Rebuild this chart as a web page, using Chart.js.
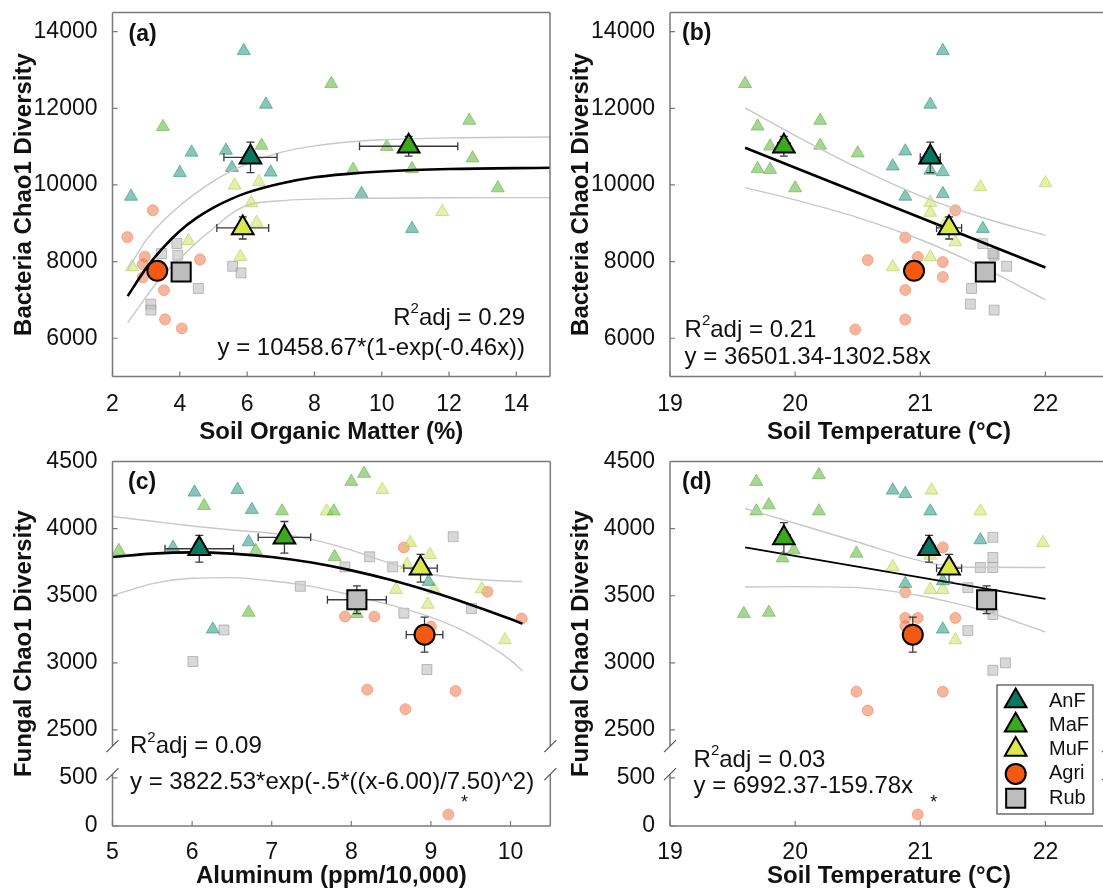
<!DOCTYPE html>
<html>
<head>
<meta charset="utf-8">
<title>Chao1 diversity vs soil variables</title>
<script src="https://cdn.jsdelivr.net/npm/chart.js@4.4.1/dist/chart.umd.min.js"></script>
<style>
  html, body { margin: 0; padding: 0; background: #fff; }
  body { position: relative; width: 1103px; height: 890px; overflow: hidden; }
  canvas { position: absolute; }
  #panelA { left: 0; top: 0; }
  #panelB { left: 557px; top: 0; }
  #panelC { left: 0; top: 445px; }
  #panelD { left: 557px; top: 445px; }
</style>
</head>
<body>
<canvas id="panelA" width="557" height="445"></canvas>
<canvas id="panelB" width="557" height="445"></canvas>
<canvas id="panelC" width="557" height="445"></canvas>
<canvas id="panelD" width="557" height="445"></canvas>
<script>
const groups = ['AnF', 'MaF', 'MuF', 'Agri', 'Rub'];

// ---- (a) bacteria vs soil organic matter ----
const aAnF = [[5.9,13500],[6.56,12100],[4.35,10850],[5.37,10900],[5.55,10450],[4.0,10320],[6.7,10330],[2.55,9700],[9.4,9770],[10.9,8860]];
const aMaF = [[3.5,11520],[8.5,12640],[12.6,11680],[6.43,11030],[10.15,11000],[12.7,10700],[10.9,10420],[9.15,10400],[13.45,9920]];
const aMuF = [[5.63,9990],[6.35,10080],[6.12,9530],[6.28,9020],[11.8,9300],[4.26,8540],[5.8,8130],[2.58,7860]];
const aAgri = [[3.2,9340],[2.44,8640],[2.96,8130],[2.9,7930],[2.9,7590],[4.6,8055],[3.53,7255],[3.56,6495],[4.06,6258]];
const aRub = [[3.91,8471],[3.94,8167],[3.46,8211],[4.55,7300],[3.14,6890],[3.14,6735],[5.57,7880],[5.82,7706]];
const aMeanX = [6.1, 10.8, 5.87, 3.33, 4.04];
const aMeanY = [10720, 11010, 8880, 7760, 7730];
const aErrX = [0.79, 1.46, 0.77, 0.2, 0.2];
const aErrY = [400, 260, 290, 150, 150];
const aFitX = [2.45, 3, 3.5, 4, 4.5, 5, 5.5, 6, 7, 8, 9, 10, 12, 15];
const aFitY = [7100, 7830, 8360, 8800, 9140, 9410, 9625, 9800, 10040, 10200, 10290, 10350, 10415, 10450];
const aCiHi = [7790, 8560, 9060, 9460, 9800, 10100, 10350, 10550, 10850, 11020, 11120, 11180, 11230, 11250];
const aCiLo = [6400, 7080, 7650, 8080, 8500, 8870, 9230, 9470, 9590, 9630, 9650, 9655, 9665, 9670];
const aTicks = [2, 4, 6, 8, 10, 12, 14];

// ---- (b) bacteria vs soil temperature ----
const bAnF = [[21.18,13500],[21.08,12100],[20.88,10880],[20.78,10490],[21.18,10340],[21.08,10380],[21.18,9770],[20.88,9700],[21.5,8860],[21.08,10850]];
const bMaF = [[19.6,12640],[19.7,11530],[20.2,11680],[19.8,11010],[20.2,11030],[20.5,10830],[19.7,10420],[19.8,10400],[20.0,9920]];
const bMuF = [[22.0,10050],[21.48,9950],[21.08,9540],[21.08,9280],[21.28,8510],[21.08,8120],[20.78,7860],[21.2,9000]];
const bAgri = [[21.28,9340],[20.88,8630],[20.58,8040],[20.98,8120],[21.18,7990],[21.18,7600],[20.88,7260],[20.88,6490],[20.48,6230]];
const bRub = [[21.5,8470],[21.59,8167],[21.69,7880],[21.41,7300],[21.4,6890],[21.59,6735],[21.58,8210],[21.55,7710]];
const bMeanX = [21.08, 19.91, 21.23, 20.95, 21.52];
const bMeanY = [10720, 11010, 8880, 7760, 7730];
const bErrX = [0.08, 0.05, 0.1, 0.05, 0.05];
const bErrY = [400, 260, 290, 150, 150];
const bFitX = [19.6, 22];
const bFitY = [10970, 7845];
const bCiX = [19.6, 20, 20.5, 21, 21.5, 22];
const bCiHi = [12010, 11290, 10450, 9717, 9144, 8685];
const bCiLo = [9930, 9610, 9150, 8577, 7848, 7005];
const tempTicks = [19, 20, 21, 22];
const bactTicks = [6000, 8000, 10000, 12000, 14000];

// ---- (c) fungi vs aluminum ----
const cAnF = [[6.03,4270],[6.57,4290],[6.75,4140],[6.71,3900],[5.76,3860],[6.26,3250],[8.97,3605],[6.1,3880]];
const cMaF = [[8.0,4350],[8.16,4410],[6.15,4170],[7.13,4130],[7.78,4130],[5.08,3835],[6.8,3835],[7.79,3790],[6.71,3375],[8.07,3365]];
const cMuF = [[8.39,4290],[7.69,4130],[8.74,3895],[8.99,3805],[8.7,3730],[8.56,3545],[9.04,3545],[9.64,3550],[8.96,3435],[9.93,3170]];
const cAgri = [[8.66,3860],[9.71,3530],[10.14,3330],[7.92,3345],[8.29,3345],[9.0,3270],[8.2,2800],[9.31,2790],[8.68,2655],[9.22,120]];
const cRub = [[9.28,3940],[8.23,3790],[7.92,3715],[8.52,3715],[7.36,3570],[9.51,3405],[8.66,3370],[6.4,3245],[6.01,3010],[8.95,2950]];
const cMeanX = [6.09, 7.16, 8.87, 8.92, 8.07];
const cMeanY = [3850, 3935, 3705, 3210, 3470];
const cErrX = [0.43, 0.33, 0.21, 0.23, 0.37];
const cErrY = [100, 118, 103, 130, 103];
const cFitX = [5, 5.5, 6, 6.5, 7, 7.5, 8, 8.5, 9, 9.5, 10, 10.15];
const cFitY = [3789, 3814, 3823, 3814, 3789, 3747, 3689, 3617, 3531, 3433, 3326, 3292];
const cCiHi = [4090, 4055, 4020, 3990, 3965, 3920, 3840, 3740, 3660, 3625, 3608, 3605];
const cCiLo = [3500, 3590, 3630, 3635, 3610, 3570, 3505, 3430, 3340, 3210, 3020, 2940];
const cTicks = [5, 6, 7, 8, 9, 10];
const fungTicks = [0, 500, 2500, 3000, 3500, 4000, 4500];

// ---- (d) fungi vs soil temperature ----
const dAnF = [[20.78,4285],[20.88,4260],[21.08,4130],[21.48,3915],[20.88,3590],[21.18,3250],[21.18,3610],[21.08,3880]];
const dMaF = [[19.69,4350],[20.19,4400],[19.79,4175],[19.69,4130],[20.19,4130],[19.99,3840],[19.9,3780],[20.49,3815],[19.59,3365],[19.79,3375]];
const dMuF = [[21.09,4285],[21.48,4130],[21.98,3895],[20.78,3715],[21.08,3545],[21.18,3545],[21.28,3170],[21.08,3800],[21.23,3730]];
const dAgri = [[21.18,3860],[20.88,3525],[20.88,3335],[20.98,3335],[21.28,3335],[20.88,3275],[20.49,2785],[20.58,2645],[21.18,2785],[20.98,120]];
const dRub = [[21.58,3935],[21.58,3785],[21.48,3710],[21.58,3710],[21.38,3560],[21.58,3360],[21.38,3240],[21.68,3000],[21.58,2945],[21.55,3410]];
const dMeanX = [21.07, 19.91, 21.23, 20.94, 21.53];
const dMeanY = [3850, 3930, 3705, 3210, 3470];
const dErrX = [0.05, 0.05, 0.1, 0.05, 0.05];
const dErrY = [100, 115, 103, 130, 103];
const dFitX = [19.6, 22];
const dFitY = [3860, 3477];
const dCiX = [19.6, 20, 20.5, 21, 21.25, 21.5, 22];
const dCiHi = [4150, 4040, 3900, 3760, 3720, 3712, 3710];
const dCiLo = [3565, 3568, 3560, 3500, 3450, 3390, 3230];

// ---- styles ----
const FONT = "'Liberation Sans', Arial, Helvetica, sans-serif";
const TXT = '#111';
const SHAPES = ['triangle', 'triangle', 'triangle', 'circle', 'rect'];
const MEAN_FILL = ['#08775f', '#3aaa1c', '#d8e84e', '#f25a12', '#bdbdbd'];
const MEAN_R = [12.5, 12.5, 12.5, 10, 13.5];
const DOT_FILL = ['rgba(40,150,125,0.55)', 'rgba(95,180,60,0.55)', 'rgba(205,225,100,0.55)', 'rgba(238,120,75,0.55)', 'rgba(190,190,190,0.6)'];
const DOT_EDGE = ['rgba(40,150,125,0.6)', 'rgba(95,180,60,0.6)', 'rgba(180,205,80,0.6)', 'rgba(238,120,75,0.5)', 'rgba(150,150,150,0.6)'];
const DOT_R = [7.5, 7.5, 7.5, 5.5, 7];

Chart.defaults.font.family = FONT;
Chart.defaults.color = TXT;

// broken y axis on the fungal panels: 0..~560 squeezed below, ~2380..4500 above
const LOW_K = 0.7156, UP_SHIFT = 1784.5, UPPER_BREAK = 2380, LOWER_BREAK = 540;
const brk = v => v < 1500 ? v * LOW_K : v - UP_SHIFT;
const unbrk = t => t < 500 ? t / LOW_K : t + UP_SHIFT;
const same = v => v;

const PANELS = {
  panelA: { tag: '(a)', tagAt: [128.6, 35], broken: false, xMin: 2, xMax: 15, yMin: 5000, yMax: 14500,
    xTicks: aTicks, yTicks: bactTicks, xTitle: 'Soil Organic Matter (%)', yTitle: 'Bacteria Chao1 Diversity',
    groups: [aAnF, aMaF, aMuF, aAgri, aRub], meanX: aMeanX, meanY: aMeanY, errX: aErrX, errY: aErrY,
    fitX: aFitX, fitY: aFitY, ciX: aFitX, ciHi: aCiHi, ciLo: aCiLo, fitW: 2.6,
    r2: '0.29', eq: 'y = 10458.67*(1-exp(-0.46x))', textAt: [525, 318, 348], align: 'right',
    padT: 12.5, padR: 7, yW: 112.5, xH: 68.4, xPad: 14, titleB: -1.5 },
  panelB: { tag: '(b)', tagAt: [125, 34], broken: false, xMin: 19, xMax: 22.5, yMin: 5000, yMax: 14500,
    xTicks: tempTicks, yTicks: bactTicks, xTitle: 'Soil Temperature (°C)', yTitle: 'Bacteria Chao1 Diversity',
    groups: [bAnF, bMaF, bMuF, bAgri, bRub], meanX: bMeanX, meanY: bMeanY, errX: bErrX, errY: bErrY,
    fitX: bFitX, fitY: bFitY, ciX: bCiX, ciHi: bCiHi, ciLo: bCiLo, fitW: 2.6,
    r2: '0.21', eq: 'y = 36501.34-1302.58x', textAt: [127.6, 330, 357], align: 'left',
    padT: 12.5, padR: 6, yW: 113, xH: 68.4, xPad: 14, titleB: -1.5 },
  panelC: { tag: '(c)', tagAt: [128, 37.7], broken: true, xMin: 5, xMax: 10.5, yMin: 0, yMax: brk(4500),
    xTicks: cTicks, yTicks: fungTicks, xTitle: 'Aluminum (ppm/10,000)', yTitle: 'Fungal Chao1 Diversity',
    groups: [cAnF, cMaF, cMuF, cAgri, cRub], meanX: cMeanX, meanY: cMeanY, errX: cErrX, errY: cErrY,
    fitX: cFitX, fitY: cFitY, ciX: cFitX, ciHi: cCiHi, ciLo: cCiLo, fitW: 2.6,
    r2: '0.09', eq: 'y = 3822.53*exp(-.5*((x-6.00)/7.50)^2)', textAt: [130, 301.7, 337], align: 'left',
    padT: 16.5, padR: 6.7, yW: 112.5, xH: 64, xPad: 12.5, titleB: -1 },
  panelD: { tag: '(d)', tagAt: [125, 38], broken: true, xMin: 19, xMax: 22.5, yMin: 0, yMax: brk(4500),
    xTicks: tempTicks, yTicks: fungTicks, xTitle: 'Soil Temperature (°C)', yTitle: 'Fungal Chao1 Diversity',
    groups: [dAnF, dMaF, dMuF, dAgri, dRub], meanX: dMeanX, meanY: dMeanY, errX: dErrX, errY: dErrY,
    fitX: dFitX, fitY: dFitY, ciX: dCiX, ciHi: dCiHi, ciLo: dCiLo, fitW: 1.8,
    r2: '0.03', eq: 'y = 6992.37-159.78x', textAt: [136.6, 315, 341.7], align: 'left', legend: true,
    padT: 16.5, padR: 6, yW: 113, xH: 64, xPad: 12.5, titleB: -1 }
};

function drawR2(ctx, x, y, val, align) {
  const big = '24px ' + FONT, small = '15px ' + FONT;
  ctx.font = big;
  const wR = ctx.measureText('R').width;
  const rest = 'adj = ' + val;
  const wRest = ctx.measureText(rest).width;
  ctx.font = small;
  const w2 = ctx.measureText('2').width;
  const x0 = align === 'right' ? x - (wR + w2 + wRest) : x;
  ctx.textAlign = 'left';
  ctx.font = big; ctx.fillText('R', x0, y);
  ctx.font = small; ctx.fillText('2', x0 + wR, y - 9);
  ctx.font = big; ctx.fillText(rest, x0 + wR + w2, y);
}

const decor = {
  id: 'decor',
  beforeDatasetDraw(chart, args) {
    // error bars go under the group means (dataset 0 is drawn last)
    if (args.index !== 0) return;
    const p = PANELS[chart.canvas.id];
    const ty = p.broken ? brk : same;
    const { ctx, scales: { x, y } } = chart;
    ctx.save();
    ctx.strokeStyle = '#3a3a3a';
    ctx.lineWidth = 1.3;
    p.meanX.forEach((mx, i) => {
      const my = p.meanY[i];
      const cx = x.getPixelForValue(mx), cy = y.getPixelForValue(ty(my));
      const x0 = x.getPixelForValue(mx - p.errX[i]), x1 = x.getPixelForValue(mx + p.errX[i]);
      const y0 = y.getPixelForValue(ty(my - p.errY[i])), y1 = y.getPixelForValue(ty(my + p.errY[i]));
      ctx.beginPath();
      ctx.moveTo(x0, cy); ctx.lineTo(x1, cy);
      ctx.moveTo(x0, cy - 4); ctx.lineTo(x0, cy + 4);
      ctx.moveTo(x1, cy - 4); ctx.lineTo(x1, cy + 4);
      ctx.moveTo(cx, y0); ctx.lineTo(cx, y1);
      ctx.moveTo(cx - 4, y0); ctx.lineTo(cx + 4, y0);
      ctx.moveTo(cx - 4, y1); ctx.lineTo(cx + 4, y1);
      ctx.stroke();
    });
    ctx.restore();
  },
  afterDatasetsDraw(chart) {
    const p = PANELS[chart.canvas.id];
    const { ctx, chartArea: { left, right, top, bottom }, scales: { x, y } } = chart;
    ctx.save();
    // frame
    ctx.strokeStyle = '#7a7a7a';
    ctx.lineWidth = 1.5;
    ctx.beginPath();
    ctx.moveTo(left, top); ctx.lineTo(right, top);
    ctx.moveTo(left, bottom); ctx.lineTo(right, bottom);
    let yu, yl;
    if (p.broken) {
      yu = y.getPixelForValue(brk(UPPER_BREAK));
      yl = y.getPixelForValue(brk(LOWER_BREAK));
      [left, right].forEach(xx => {
        ctx.moveTo(xx, top); ctx.lineTo(xx, yu);
        ctx.moveTo(xx, yl); ctx.lineTo(xx, bottom);
      });
    } else {
      ctx.moveTo(left, top); ctx.lineTo(left, bottom);
      ctx.moveTo(right, top); ctx.lineTo(right, bottom);
    }
    ctx.stroke();
    // inward ticks
    ctx.lineWidth = 1.2;
    ctx.beginPath();
    x.ticks.forEach(t => {
      const px = x.getPixelForValue(t.value);
      ctx.moveTo(px, bottom); ctx.lineTo(px, bottom - 5);
    });
    y.ticks.forEach(t => {
      const py = y.getPixelForValue(t.value);
      ctx.moveTo(left, py); ctx.lineTo(left + 5, py);
    });
    ctx.stroke();
    // break marks
    if (p.broken) {
      ctx.strokeStyle = '#555';
      ctx.beginPath();
      [left, right].forEach(xx => {
        [yu, yl].forEach(yy => { ctx.moveTo(xx - 6, yy + 6); ctx.lineTo(xx + 6, yy - 6); });
      });
      ctx.stroke();
    }
    // texts
    ctx.fillStyle = TXT;
    ctx.textBaseline = 'middle';
    ctx.textAlign = 'left';
    ctx.font = 'bold 23px ' + FONT;
    ctx.fillText(p.tag, p.tagAt[0], p.tagAt[1]);
    drawR2(ctx, p.textAt[0], p.textAt[1], p.r2, p.align);
    ctx.font = '24px ' + FONT;
    ctx.textAlign = p.align;
    ctx.fillText(p.eq, p.textAt[0], p.textAt[2]);
    // asterisk next to the low outlier
    if (p.broken) {
      const out = p.groups[3][p.groups[3].length - 1];
      ctx.font = '18px ' + FONT;
      ctx.textAlign = 'center';
      ctx.fillText('*', x.getPixelForValue(out[0]) + 16, y.getPixelForValue(brk(out[1])) - 11);
    }
    // legend box
    if (p.legend) {
      const bx = 440, by = 240, bw = 96, bh = 129;
      ctx.fillStyle = '#fff';
      ctx.fillRect(bx, by, bw, bh);
      ctx.strokeStyle = '#555';
      ctx.lineWidth = 1.3;
      ctx.strokeRect(bx, by, bw, bh);
      groups.forEach((g, i) => {
        const ry = by + 16 + i * 24.3;
        ctx.fillStyle = MEAN_FILL[i];
        ctx.strokeStyle = '#000';
        ctx.lineWidth = 2;
        Chart.helpers.drawPoint(ctx, { pointStyle: SHAPES[i], radius: MEAN_R[i], rotation: 0, borderWidth: 2 }, bx + 18.7, ry);
        ctx.fillStyle = TXT;
        ctx.font = '20px ' + FONT;
        ctx.textAlign = 'left';
        ctx.fillText(g, bx + 52, ry);
      });
    }
    ctx.restore();
  }
};

// keep the plot box where we put it: no extra room for overhanging tick labels
function noOverhang(s) {
  s.paddingTop = 0; s.paddingBottom = 0; s.paddingLeft = 0; s.paddingRight = 0;
}

function build(id) {
  const p = PANELS[id];
  const ty = p.broken ? brk : same;
  const pts = (xs, ys) => xs.map((xv, i) => ({ x: xv, y: ty(ys[i]) }));
  const line = (xs, ys, color, w) => ({
    data: pts(xs, ys), showLine: true, borderColor: color, borderWidth: w,
    pointRadius: 0, cubicInterpolationMode: 'monotone'
  });
  const datasets = [
    { data: pts(p.meanX, p.meanY), pointStyle: SHAPES, pointRadius: MEAN_R,
      pointBackgroundColor: MEAN_FILL, pointBorderColor: '#000', pointBorderWidth: 2 },
    line(p.fitX, p.fitY, '#000', p.fitW),
    line(p.ciX, p.ciHi, '#c8c8c8', 1.4),
    line(p.ciX, p.ciLo, '#c8c8c8', 1.4)
  ];
  p.groups.forEach((g, i) => datasets.push({
    data: g.map(q => ({ x: q[0], y: ty(q[1]) })),
    pointStyle: SHAPES[i], pointRadius: DOT_R[i],
    pointBackgroundColor: DOT_FILL[i], pointBorderColor: DOT_EDGE[i], pointBorderWidth: 1
  }));

  new Chart(document.getElementById(id), {
    type: 'scatter',
    data: { datasets },
    plugins: [decor],
    options: {
      responsive: false,
      animation: false,
      devicePixelRatio: 1,
      events: [],
      layout: { autoPadding: false, padding: { left: 0, right: p.padR, top: p.padT, bottom: 0 } },
      plugins: { legend: { display: false }, tooltip: { enabled: false } },
      scales: {
        x: {
          type: 'linear', min: p.xMin, max: p.xMax,
          afterFit: s => { s.height = p.xH; noOverhang(s); },
          afterBuildTicks: s => { s.ticks = p.xTicks.map(v => ({ value: v })); },
          grid: { display: false, drawTicks: false }, border: { display: false },
          ticks: { font: { size: 23 }, color: TXT, padding: p.xPad, maxRotation: 0, autoSkip: false, callback: v => String(v) },
          title: { display: true, text: p.xTitle, color: TXT, font: { size: 24, weight: 'bold' }, padding: { top: 0, bottom: p.titleB } }
        },
        y: {
          type: 'linear', min: p.yMin, max: p.yMax,
          afterFit: s => { s.width = p.yW; noOverhang(s); },
          afterBuildTicks: s => { s.ticks = p.yTicks.map(v => ({ value: p.broken ? brk(v) : v })); },
          grid: { display: false, drawTicks: false }, border: { display: false },
          ticks: { font: { size: 23 }, color: TXT, padding: 15, autoSkip: false,
            callback: v => String(Math.round(p.broken ? unbrk(v) : v)) },
          title: { display: true, text: p.yTitle, color: TXT, font: { size: 24, weight: 'bold' }, padding: { top: 10, bottom: 0 } }
        }
      }
    }
  });
}

['panelA', 'panelB', 'panelC', 'panelD'].forEach(build);
</script>
</body>
</html>
